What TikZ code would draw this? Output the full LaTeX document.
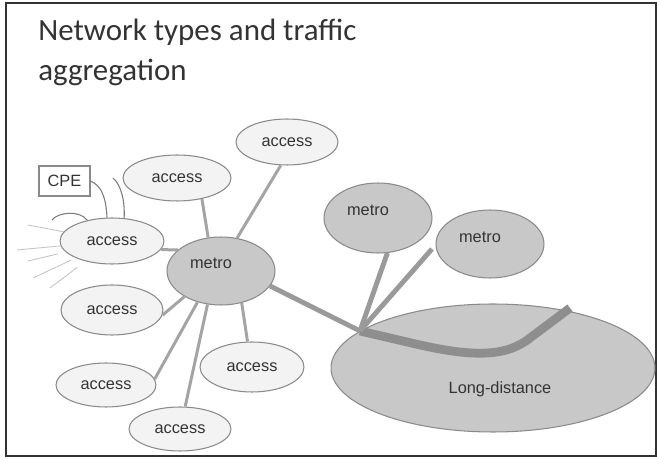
\documentclass[tikz,border=0pt]{standalone}
\usepackage{fontspec}
\setmainfont{Liberation Sans}
\newfontfamily\titlefont{Carlito}
\usetikzlibrary{shapes.geometric}

\definecolor{ink}{HTML}{333333}
\definecolor{edge}{HTML}{8A8A8A}
\definecolor{accessfill}{HTML}{F3F3F3}
\definecolor{metrofill}{HTML}{C8C8C9}
\definecolor{linkgray}{HTML}{A4A4A4}
\definecolor{trunkgray}{HTML}{9A9A9A}
\definecolor{bbgray}{HTML}{8E8E8E}
\definecolor{wiregray}{HTML}{7A7A7A}
\definecolor{raygray}{HTML}{C4C4C4}

\begin{document}
\begin{tikzpicture}[
x=0.02cm, y=-0.02cm,
font=\fontsize{9.3}{11}\selectfont, text=ink,
access/.style={draw=edge, fill=accessfill, ellipse, inner sep=0pt, line width=0.6pt},
metro/.style={draw=edge, fill=metrofill, ellipse, inner sep=0pt, line width=0.6pt},
cpebox/.style={draw=edge, fill=white, rectangle, inner sep=0pt, minimum width=1.02cm, minimum height=0.6cm, line width=0.6pt},
link/.style={draw=linkgray, line width=1.7pt},
trunk/.style={draw=trunkgray, line width=2.8pt},
backbone/.style={draw=bbgray, line width=5pt, line join=round},
wire/.style={draw=wiregray, line width=0.6pt},
ray/.style={draw=raygray, line width=0.5pt},
frame/.style={draw=ink, line width=1.3pt}
]
\useasboundingbox (0,0) rectangle (657,459);
\draw[frame] (6,3) rectangle (656,456);

\node[anchor=north west, inner sep=0pt, align=left, font=\titlefont\fontsize{17.6}{22.7}\selectfont] (title) at (38,19) {Network types and traffic\\aggregation};

% long-distance core
\node[metro, minimum width=6.48cm, minimum height=2.56cm] (ld) at (493,368) {};
\node (ldt) at ([shift={(7,21)}]ld.center) {Long-distance};

% metro rings
\node[metro, minimum width=2.16cm, minimum height=1.36cm] (m0) at (221,271) {};
\node[metro, minimum width=2.16cm, minimum height=1.4cm] (m1) at (378,218) {};
\node[metro, minimum width=2.16cm, minimum height=1.36cm] (m2) at (490,244) {};
\node (m0t) at ([shift={(-10,-8)}]m0.center) {metro};
\node (m1t) at ([shift={(-10,-8)}]m1.center) {metro};
\node (m2t) at ([shift={(-10,-7)}]m2.center) {metro};

% access networks
\node[access, minimum width=2.04cm, minimum height=0.92cm] (a1) at (287,142) {access};
\node[access, minimum width=2.16cm, minimum height=0.92cm] (a2) at (177,178) {access};
\node[access, minimum width=2.08cm, minimum height=0.92cm] (a3) at (112,241) {access};
\node[access, minimum width=2.04cm, minimum height=1.0cm] (a4) at (112,310) {access};
\node[access, minimum width=2.0cm, minimum height=0.88cm] (a5) at (106,385) {access};
\node[access, minimum width=2.04cm, minimum height=0.88cm] (a6) at (180,429) {access};
\node[access, minimum width=2.08cm, minimum height=1.0cm] (a7) at (252,367) {access};

\node[cpebox] (cpe) at (64.5,181) {CPE};

\coordinate (hub) at (360,331);
\coordinate (m2tip) at (432,249);
\coordinate (ldtip) at (570,308);
\coordinate (cord) at (113,178);
\coordinate (hook) at (52,220);

\draw[link] (m0.64) -- (a1.-105);
\draw[link] (m0.111) -- (a2.-40);
\draw[link] (m0.154) -- (a3.-10);
\draw[link] (m0.215) -- (a4.-6);
\draw[link] (m0.233) -- (a5.7);
\draw[link] (m0.248) -- (a6.77);
\draw[link] (m0.-57) -- (a7.100);

\draw[backbone] (hub) -- (420,345) .. controls (470,356) and (505,358) .. (530,338) -- (ldtip);
\draw[trunk] (m0.-17) -- (hub);
\draw[trunk] (m1.-75) -- (hub);
\draw[trunk] (hub) -- (m2tip);

% customer side
\draw[wire] (cpe.east) .. controls (102,186) and (106,198) .. (a3.102);
\draw[wire] (cord) .. controls (121,185) and (125,200) .. (a3.62);
\draw[wire] (hook) .. controls (58,212) and (80,210) .. (a3.140);

\coordinate (r1) at (28,225);
\coordinate (r2) at (17,250);
\coordinate (r3) at (28,261);
\coordinate (r4) at (33,278);
\coordinate (r5) at (50,288);
\draw[ray] (r1) -- (a3);
\draw[ray] (r2) -- (a3);
\draw[ray, shorten >=0.16cm] (r3) -- (a3);
\draw[ray, shorten >=0.1cm] (r4) -- (a3);
\draw[ray, shorten >=0.2cm] (r5) -- (a3);

\end{tikzpicture}
\end{document}
